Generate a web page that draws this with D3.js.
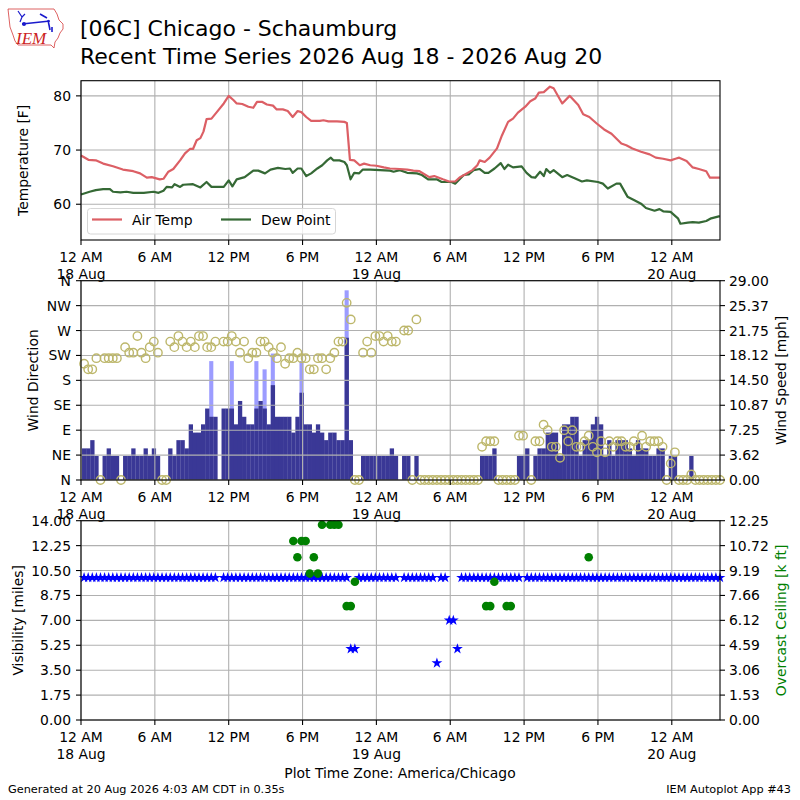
<!DOCTYPE html>
<html>
<head>
<meta charset="utf-8">
<script src="https://cdn.jsdelivr.net/npm/d3@7"></script>
<style>
body { margin: 0; background: #fff; }
svg { font-family: "DejaVu Sans", sans-serif; }
</style>
</head>
<body>
<div id="chart"></div>
<script>
//Data (hours since 12 AM 18 Aug, America/Chicago)
var endHour = 51.9167;
var tickHours = [0, 6, 12, 18, 24, 30, 36, 42, 48];
var tickLabels = [["12 AM", "18 Aug"], ["6 AM"], ["12 PM"], ["6 PM"], ["12 AM", "19 Aug"],
    ["6 AM"], ["12 PM"], ["6 PM"], ["12 AM", "20 Aug"]];

var tempHours = [0, 0.6, 1.2, 1.8, 2.6, 3.4, 4.25, 4.8, 5.35, 5.75, 6.4, 6.7, 7.1, 7.5, 8.05, 8.45, 8.85, 9.1,
    9.4, 9.7, 9.95, 10.2, 10.6, 11.0, 11.6, 12.0, 12.4, 12.65, 13.1, 13.6, 14.0, 14.3, 14.7, 15.1, 15.6,
    15.9, 16.4, 16.8, 17.2, 17.6, 17.9, 18.3, 18.7, 19.4, 19.7, 20.1, 20.8, 21.4, 21.6, 21.85, 22.2, 22.65,
    23.0, 23.5, 24.0, 24.6, 25.1, 25.9, 26.5, 27.0, 27.5, 28.3, 28.7, 29.4, 29.9, 30.4, 30.8, 31.2, 31.8,
    32.2, 32.4, 32.8, 33.2, 33.8, 34.2, 34.7, 35.1, 35.5, 36.1, 36.5, 36.9, 37.2, 37.6, 38.1, 38.4, 39.1,
    39.7, 40.4, 40.8, 41.3, 41.9, 42.5, 43.1, 43.9, 44.3, 44.8, 45.5, 46.2, 46.7, 47.3, 47.9, 48.3, 48.6,
    49.2, 49.7, 50.2, 50.8, 51.1, 51.9];
var airTemp = [69.0, 68.2, 68.1, 67.5, 67.0, 66.4, 66.1, 65.7, 64.9, 65.0, 64.6, 64.7, 66.0, 66.5, 68.1, 69.4, 70.2, 70.2,
    71.8, 72.2, 73.4, 75.7, 75.8, 76.9, 78.6, 80.0, 79.2, 78.6, 78.5, 78.0, 77.8, 78.9, 78.9, 78.4, 78.2,
    77.5, 77.5, 77.2, 76.1, 77.2, 77.0, 76.1, 75.4, 75.4, 75.5, 75.3, 75.3, 75.2, 75.0, 68.2, 68.1, 67.2,
    67.5, 67.2, 67.1, 66.8, 66.6, 66.5, 66.4, 66.2, 66.1, 65.0, 65.2, 64.6, 64.2, 64.2, 65.0, 65.5, 66.3,
    67.2, 68.1, 67.8, 68.6, 70.3, 72.7, 75.2, 75.8, 76.9, 78.0, 79.0, 79.5, 80.6, 80.7, 81.7, 81.4, 78.6,
    80.0, 78.3, 76.6, 76.1, 74.9, 73.8, 73.0, 71.2, 70.9, 70.3, 69.7, 69.2, 68.6, 68.4, 68.1, 68.4, 68.6,
    68.0, 66.8, 66.5, 66.1, 64.9, 64.9];

var dewHours = [0, 0.7, 1.2, 1.8, 2.35, 2.6, 3.2, 3.7, 4.25, 5.1, 5.9, 6.3, 6.7, 6.96, 7.4, 7.6, 8.05, 8.3, 9.1,
    9.7, 10.2, 10.6, 11.6, 12.0, 12.3, 12.65, 13.3, 14.0, 14.4, 14.95, 15.4, 16.0, 16.6, 16.98, 17.2, 17.6,
    17.9, 18.3, 18.7, 19.2, 19.6, 20.0, 20.3, 20.5, 21.0, 21.4, 21.6, 21.9, 22.2, 22.6, 22.9, 23.5, 24.3,
    25.1, 25.4, 25.9, 26.5, 27.3, 27.7, 28.2, 28.9, 29.3, 30.1, 30.4, 31.1, 31.5, 31.9, 32.4, 32.8, 33.1,
    33.6, 34.1, 34.4, 34.7, 35.1, 35.8, 36.2, 36.6, 36.9, 37.3, 37.6, 37.8, 38.1, 38.4, 39.1, 39.5, 40.2,
    40.7, 41.1, 42.0, 42.4, 42.8, 43.5, 43.8, 44.4, 45.0, 45.5, 45.9, 46.6, 47.0, 47.3, 47.9, 48.5, 48.7,
    49.3, 49.7, 50.2, 50.8, 51.2, 51.9];
var dewPoint = [61.8, 62.3, 62.6, 62.8, 62.8, 62.3, 62.2, 62.3, 62.1, 62.1, 62.3, 62.1, 62.5, 63.2, 63.1, 63.7, 63.2, 63.6, 63.7,
    63.1, 64.1, 63.2, 63.2, 64.4, 63.3, 64.6, 65.0, 66.2, 66.2, 65.7, 66.4, 66.7, 66.5, 66.6, 65.8, 66.6,
    66.6, 65.2, 65.7, 66.6, 67.2, 68.1, 68.6, 68.1, 68.1, 67.8, 67.2, 64.6, 65.8, 65.7, 66.4, 66.4, 66.3,
    66.2, 66.0, 66.3, 65.8, 65.7, 65.4, 64.6, 64.6, 64.1, 64.1, 63.8, 65.4, 65.5, 66.3, 66.5, 65.8, 65.8,
    66.6, 67.6, 66.5, 67.3, 66.8, 67.0, 65.8, 65.0, 64.9, 66.0, 65.2, 66.5, 65.8, 66.3, 65.0, 65.4, 64.7,
    64.2, 64.4, 64.1, 63.8, 62.9, 63.8, 63.8, 61.4, 60.7, 60.1, 59.3, 58.8, 59.1, 58.7, 58.6, 57.4, 56.4,
    56.6, 56.7, 56.6, 56.9, 57.4, 57.8];

// observations every 20 minutes, first at 12:15 AM
var obsStart = 0.25;
var obsStep = 1 / 3;
var windSpeed = [
    4.6, 4.6, 5.8, 3.5, 0, 3.5, 4.6, 3.5, 3.5, 0,
    3.5, 3.5, 4.6, 3.5, 3.5, 4.6, 3.5, 4.6, 3.5, 0,
    0, 4.6, 3.5, 5.8, 5.8, 4.6, 8.1, 6.9, 6.9, 8.1,
    10.4, 9.2, 9.2, null, 10.4, 10.4, 10.4, 8.1, 11.5, 9.2,
    8.1, 8.1, 10.4, 11.5, 10.4, 8.1, 13.8, 9.2, 9.2, 9.2,
    9.2, 6.9, 9.2, 12.7, 8.1, 8.1, 6.9, 8.1, 6.9, 5.8,
    6.9, 6.9, 5.8, 5.8, 20.7, 5.8, 0, 0, 3.5, 3.5,
    3.5, 3.5, 3.5, 3.5, 3.5, 4.6, 3.5, null, 3.5, 3.5,
    0, 3.5, 0, 0, 0, 0, 0, 0, 0, 0,
    0, 0, 0, 0, 0, 0, 0, 3.5, 3.5, 3.5,
    4.6, 0, 0, 0, 0, 0, 3.5, 3.5, 4.6, 0,
    3.5, 4.6, 4.6, 6.9, 6.9, 6.9, 3.5, 8.1, 8.1, 9.2,
    9.2, 3.5, 5.8, 5.8, 8.1, 9.2, 8.1, 3.5, 5.8, 3.5,
    5.8, 5.8, 5.8, 4.6, 3.5, 5.8, 4.6, 4.6, 3.5, 3.5,
    4.6, 4.6, 0, 3.5, 3.5, 0, 0, 0, 3.5, 0,
    0, 0, 0, 0, 0, 0];
var windDir = [
    210, 200, 200, 220, 0, 220, 220, 220, 220, 0,
    240, 230, 230, 260, 230, 220, 240, 250, 230, 0,
    0, 250, 240, 260, 250, 240, 250, 240, 260, 260,
    240, 240, 250, null, 250, 250, 260, 250, 230, 250,
    220, 230, 230, 250, 250, 240, 230, 220, 240, 210,
    220, 220, 230, 220, 220, 200, 200, 220, 220, 200,
    220, 230, 250, 250, 320, 290, 0, 0, 230, 250,
    230, 260, 260, 250, 260, 250, 250, null, 270, 270,
    0, 290, 0, 0, 0, 0, 0, 0, 0, 0,
    0, 0, 0, 0, 0, 0, 0, 60, 70, 70,
    70, 0, 0, 0, 0, 0, 80, 80, null, 0,
    70, 70, 100, 90, 60, 60, 40, 90, 70, 90,
    60, 60, 70, 80, 60, 50, 70, 50, 70, 60,
    70, 70, 60, 60, 70, 60, 80, 60, 70, 70,
    70, 60, 0, 30, 50, 0, 0, 0, 10, 0,
    0, 0, 0, 0, 0, 0];
var gustHours = [10.583, 12.25, 14.25, 14.917, 15.583, 17.917, 21.583];
var gustSpeed = [17.3, 17.3, 17.3, 16.1, 18.4, 17.3, 27.6];

var visibility = [
    10, 10, 10, 10, 10, 10, 10, 10, 10, 10, 10, 10,
    10, 10, 10, 10, 10, 10, 10, 10, 10, 10, 10, 10,
    10, 10, 10, 10, 10, 10, 10, 10, 10, null, 10, 10,
    10, 10, 10, 10, 10, 10, 10, 10, 10, 10, 10, 10,
    10, 10, 10, 10, 10, 10, 10, 10, 10, 10, 10, 10,
    10, 10, 10, 10, 10, 5, 5, 10, 10, 10, 10, 10,
    10, 10, 10, 10, 10, null, 10, 10, 10, 10, 10, 10,
    10, 10, 4, 10, 10, 7, 7, 5, 10, 10, 10, 10,
    10, 10, 10, 10, 10, 10, 10, 10, 10, 10, 10, null,
    10, 10, 10, 10, 10, 10, 10, 10, 10, 10, 10, 10,
    10, 10, 10, 10, 10, 10, 10, 10, 10, 10, 10, 10,
    10, 10, 10, 10, 10, 10, 10, 10, 10, 10, 10, 10,
    10, 10, 10, 10, 10, 10, 10, 10, 10, 10, 10, 10];
var ceilHours = [17.25, 17.583, 17.917, 18.25, 18.583, 18.917, 19.25, 19.583, 20.25, 20.583, 20.917,
    21.583, 21.917, 22.25, 32.917, 33.25, 33.583, 34.583, 34.917, 41.25];
var ceilValue = [11, 10, 11, 11, 9, 10, 9, 12, 12, 12, 12, 7, 7, 8.5, 7, 7, 8.5, 7, 7, 10];

var tempTicks = [60, 70, 80];
var dirTicks = [0, 45, 90, 135, 180, 225, 270, 315, 360];
var dirLabels = ["N", "NE", "E", "SE", "S", "SW", "W", "NW", "N"];
var speedTicks = [0, 3.625, 7.25, 10.875, 14.5, 18.125, 21.75, 25.375, 29];
var speedLabels = ["0.00", "3.62", "7.25", "10.87", "14.50", "18.12", "21.75", "25.37", "29.00"];
var visTicks = [0, 1.75, 3.5, 5.25, 7, 8.75, 10.5, 12.25, 14];
var visLabels = ["0.00", "1.75", "3.50", "5.25", "7.00", "8.75", "10.50", "12.25", "14.00"];
var ceilTicks = [0, 1.53125, 3.0625, 4.59375, 6.125, 7.65625, 9.1875, 10.71875, 12.25];
var ceilLabels = ["0.00", "1.53", "3.06", "4.59", "6.12", "7.66", "9.19", "10.72", "12.25"];

//Global Variable
var left = 81, right = 720;
var panels = { temp: [80.7, 240], wind: [280.7, 480], vis: [520.7, 720] };
var gridColor = "#b0b0b0";
var fontSize = 13.9;

var svg = d3.select("#chart").append("svg")
    .attr("width", 800)
    .attr("height", 800);

var x = d3.scaleLinear().domain([0, endHour]).range([left, right]);

function obsTime(i) { return obsStart + i * obsStep; }

function gridLines(top, bottom, yScale, yTicks) {
    var g = svg.append("g").attr("class", "grid");
    g.selectAll("vline").data(tickHours).enter().append("line")
        .attr("x1", function (d) { return x(d); })
        .attr("x2", function (d) { return x(d); })
        .attr("y1", top).attr("y2", bottom)
        .attr("stroke", gridColor).attr("stroke-width", 1.1);
    g.selectAll("hline").data(yTicks).enter().append("line")
        .attr("x1", left).attr("x2", right)
        .attr("y1", function (d) { return yScale(d); })
        .attr("y2", function (d) { return yScale(d); })
        .attr("stroke", gridColor).attr("stroke-width", 1.1);
}

function frame(top, bottom) {
    svg.append("rect")
        .attr("x", left).attr("y", top)
        .attr("width", right - left).attr("height", bottom - top)
        .attr("fill", "none").attr("stroke", "black").attr("stroke-width", 1.1);
}

function xAxis(bottom) {
    var g = svg.append("g");
    g.selectAll("tick").data(tickHours).enter().append("line")
        .attr("x1", function (d) { return x(d); })
        .attr("x2", function (d) { return x(d); })
        .attr("y1", bottom).attr("y2", bottom + 5)
        .attr("stroke", "black").attr("stroke-width", 1.1);
    var t = g.selectAll("lab").data(tickHours).enter().append("text")
        .attr("x", function (d) { return x(d); })
        .attr("y", bottom + 22)
        .attr("text-anchor", "middle")
        .style("font-size", fontSize + "px");
    t.each(function (d, i) {
        var el = d3.select(this);
        tickLabels[i].forEach(function (s, j) {
            el.append("tspan").attr("x", x(d)).attr("dy", j == 0 ? 0 : 16.7).text(s);
        });
    });
}

function yAxisLeft(yScale, ticks, labels) {
    var g = svg.append("g");
    g.selectAll("tick").data(ticks).enter().append("line")
        .attr("x1", left - 5).attr("x2", left)
        .attr("y1", function (d) { return yScale(d); })
        .attr("y2", function (d) { return yScale(d); })
        .attr("stroke", "black").attr("stroke-width", 1.1);
    g.selectAll("lab").data(ticks).enter().append("text")
        .attr("x", left - 10)
        .attr("y", function (d) { return yScale(d); })
        .attr("dy", "0.36em")
        .attr("text-anchor", "end")
        .style("font-size", fontSize + "px")
        .text(function (d, i) { return labels[i]; });
}

function yAxisRight(yScale, ticks, labels) {
    var g = svg.append("g");
    g.selectAll("tick").data(ticks).enter().append("line")
        .attr("x1", right).attr("x2", right + 5)
        .attr("y1", function (d) { return yScale(d); })
        .attr("y2", function (d) { return yScale(d); })
        .attr("stroke", "black").attr("stroke-width", 1.1);
    g.selectAll("lab").data(ticks).enter().append("text")
        .attr("x", right + 9)
        .attr("y", function (d) { return yScale(d); })
        .attr("dy", "0.36em")
        .style("font-size", fontSize + "px")
        .text(function (d, i) { return labels[i]; });
}

function axisTitle(txt, px, py, color) {
    svg.append("text")
        .attr("transform", "translate(" + px + "," + py + ") rotate(-90)")
        .attr("text-anchor", "middle")
        .style("font-size", fontSize + "px")
        .style("fill", color || "black")
        .text(txt);
}

//Header
function header() {
    svg.append("text").attr("x", 80).attr("y", 36).style("font-size", "22px")
        .text("[06C] Chicago - Schaumburg");
    svg.append("text").attr("x", 80).attr("y", 64).style("font-size", "22px")
        .text("Recent Time Series 2026 Aug 18 - 2026 Aug 20");
    // IEM logo
    var logo = svg.append("g");
    logo.append("path")
        .attr("d", "M8,9 L54,9 L57,14 L59,20 L63,24 L63,29 L60,33 L58,38 L55,42 L54,48 L51,45 L18,45 L15,41 L13,35 L10,27 L9,18 Z")
        .attr("fill", "none").attr("stroke", "#d43a3a").attr("stroke-width", 0.8);
    logo.append("line").attr("x1", 22).attr("y1", 24).attr("x2", 50).attr("y2", 21)
        .attr("stroke", "#1a1acc").attr("stroke-width", 1.6);
    logo.append("path").attr("d", "M18,11 L22,17 L20,22 M22,17 L25,14")
        .attr("fill", "none").attr("stroke", "#1a1acc").attr("stroke-width", 1.2);
    logo.append("path").attr("d", "M40,14 L47,18 M48,20 L50,30 M52,27 L52,32")
        .attr("fill", "none").attr("stroke", "#1a1acc").attr("stroke-width", 1.6);
    logo.append("circle").attr("cx", 24).attr("cy", 24).attr("r", 2).attr("fill", "#1a1acc");
    logo.append("text").attr("x", 16).attr("y", 44)
        .style("font-family", "'Liberation Serif', serif").style("font-style", "italic")
        .style("font-size", "17px").style("fill", "#cc2222").text("IEM");
}

//Temperature panel
function tempPanel() {
    var top = panels.temp[0], bottom = panels.temp[1];
    var y = d3.scaleLinear().domain([53.4, 82.8]).range([bottom, top]);
    gridLines(top, bottom, y, tempTicks);

    var line = d3.line()
        .x(function (d) { return x(d[0]); })
        .y(function (d) { return y(d[1]); });
    svg.append("path")
        .datum(dewHours.map(function (h, i) { return [h, dewPoint[i]]; }))
        .attr("fill", "none").attr("stroke", "#356935").attr("stroke-width", 2.2)
        .attr("stroke-linejoin", "round")
        .attr("d", line);
    svg.append("path")
        .datum(tempHours.map(function (h, i) { return [h, airTemp[i]]; }))
        .attr("fill", "none").attr("stroke", "#dc5f65").attr("stroke-width", 2.2)
        .attr("stroke-linejoin", "round")
        .attr("d", line);

    frame(top, bottom);
    xAxis(bottom);
    yAxisLeft(y, tempTicks, tempTicks.map(String));
    axisTitle("Temperature [F]", 28, (top + bottom) / 2);

    // legend
    var leg = svg.append("g");
    leg.append("rect").attr("x", 87.5).attr("y", 208.5).attr("width", 248).attr("height", 25.5)
        .attr("rx", 3).attr("fill", "white").attr("fill-opacity", 0.8)
        .attr("stroke", "#d6d6d6").attr("stroke-width", 1);
    var items = [["Air Temp", "#dc5f65", 92], ["Dew Point", "#356935", 221]];
    items.forEach(function (it) {
        leg.append("line").attr("x1", it[2]).attr("x2", it[2] + 30).attr("y1", 219.5).attr("y2", 219.5)
            .attr("stroke", it[1]).attr("stroke-width", 2.2);
        leg.append("text").attr("x", it[2] + 40).attr("y", 224.5)
            .style("font-size", fontSize + "px").text(it[0]);
    });
}

//Wind panel
function windPanel() {
    var top = panels.wind[0], bottom = panels.wind[1];
    var yDir = d3.scaleLinear().domain([0, 360]).range([bottom, top]);
    var ySpd = d3.scaleLinear().domain([0, 29]).range([bottom, top]);
    var barW = x(obsStep) - x(0);

    svg.append("g").selectAll("rect")
        .data(gustHours)
        .enter()
        .append("rect")
        .attr("x", function (d) { return x(d) - barW / 2; })
        .attr("width", barW)
        .attr("y", function (d, i) { return ySpd(gustSpeed[i]); })
        .attr("height", function (d, i) { return bottom - ySpd(gustSpeed[i]); })
        .attr("fill", "#9c9cff");

    var spd = windSpeed.map(function (s, i) { return [obsTime(i), s]; })
        .filter(function (d) { return d[1] != null && d[1] > 0; });
    svg.append("g").selectAll("rect")
        .data(spd)
        .enter()
        .append("rect")
        .attr("x", function (d) { return x(d[0]) - barW / 2; })
        .attr("width", barW + 0.2)
        .attr("y", function (d) { return ySpd(d[1]); })
        .attr("height", function (d) { return bottom - ySpd(d[1]); })
        .attr("fill", "#3a3896");

    gridLines(top, bottom, yDir, dirTicks);

    var dir = windDir.map(function (v, i) { return [obsTime(i), v]; })
        .filter(function (d) { return d[1] != null; });
    svg.append("g").selectAll("circle")
        .data(dir)
        .enter()
        .append("circle")
        .attr("cx", function (d) { return x(d[0]); })
        .attr("cy", function (d) { return yDir(d[1]); })
        .attr("r", 4.2)
        .attr("fill", "none")
        .attr("stroke", "#bdb76b")
        .attr("stroke-width", 1.4);

    frame(top, bottom);
    xAxis(bottom);
    yAxisLeft(yDir, dirTicks, dirLabels);
    yAxisRight(ySpd, speedTicks, speedLabels);
    axisTitle("Wind Direction", 38, (top + bottom) / 2);
    axisTitle("Wind Speed [mph]", 786, (top + bottom) / 2);
}

//Visibility panel
function visPanel() {
    var top = panels.vis[0], bottom = panels.vis[1];
    var yVis = d3.scaleLinear().domain([0, 14]).range([bottom, top]);
    var yCeil = d3.scaleLinear().domain([0, 12.25]).range([bottom, top]);
    gridLines(top, bottom, yVis, visTicks);

    var vis = visibility.map(function (v, i) { return [obsTime(i), v]; })
        .filter(function (d) { return d[1] != null; });
    svg.append("g").selectAll("path")
        .data(vis)
        .enter()
        .append("path")
        .attr("d", d3.symbol().type(d3.symbolStar).size(36))
        .attr("transform", function (d) { return "translate(" + x(d[0]) + "," + yVis(d[1]) + ")"; })
        .attr("fill", "#0000ff");

    svg.append("g").selectAll("circle")
        .data(ceilHours)
        .enter()
        .append("circle")
        .attr("cx", function (d) { return x(d); })
        .attr("cy", function (d, i) { return yCeil(ceilValue[i]); })
        .attr("r", 4.3)
        .attr("fill", "#008000");

    frame(top, bottom);
    xAxis(bottom);
    yAxisLeft(yVis, visTicks, visLabels);
    yAxisRight(yCeil, ceilTicks, ceilLabels);
    axisTitle("Visibility [miles]", 23, (top + bottom) / 2);
    axisTitle("Overcast Ceiling [k ft]", 786, (top + bottom) / 2, "#008000");
}

function footer() {
    svg.append("text").attr("x", 400).attr("y", 778).attr("text-anchor", "middle")
        .style("font-size", fontSize + "px").text("Plot Time Zone: America/Chicago");
    svg.append("text").attr("x", 8).attr("y", 793)
        .style("font-size", "11.3px").text("Generated at 20 Aug 2026 4:03 AM CDT in 0.35s");
    svg.append("text").attr("x", 791).attr("y", 793).attr("text-anchor", "end")
        .style("font-size", "11.3px").text("IEM Autoplot App #43");
}

header();
tempPanel();
windPanel();
visPanel();
footer();
</script>
</body>
</html>
